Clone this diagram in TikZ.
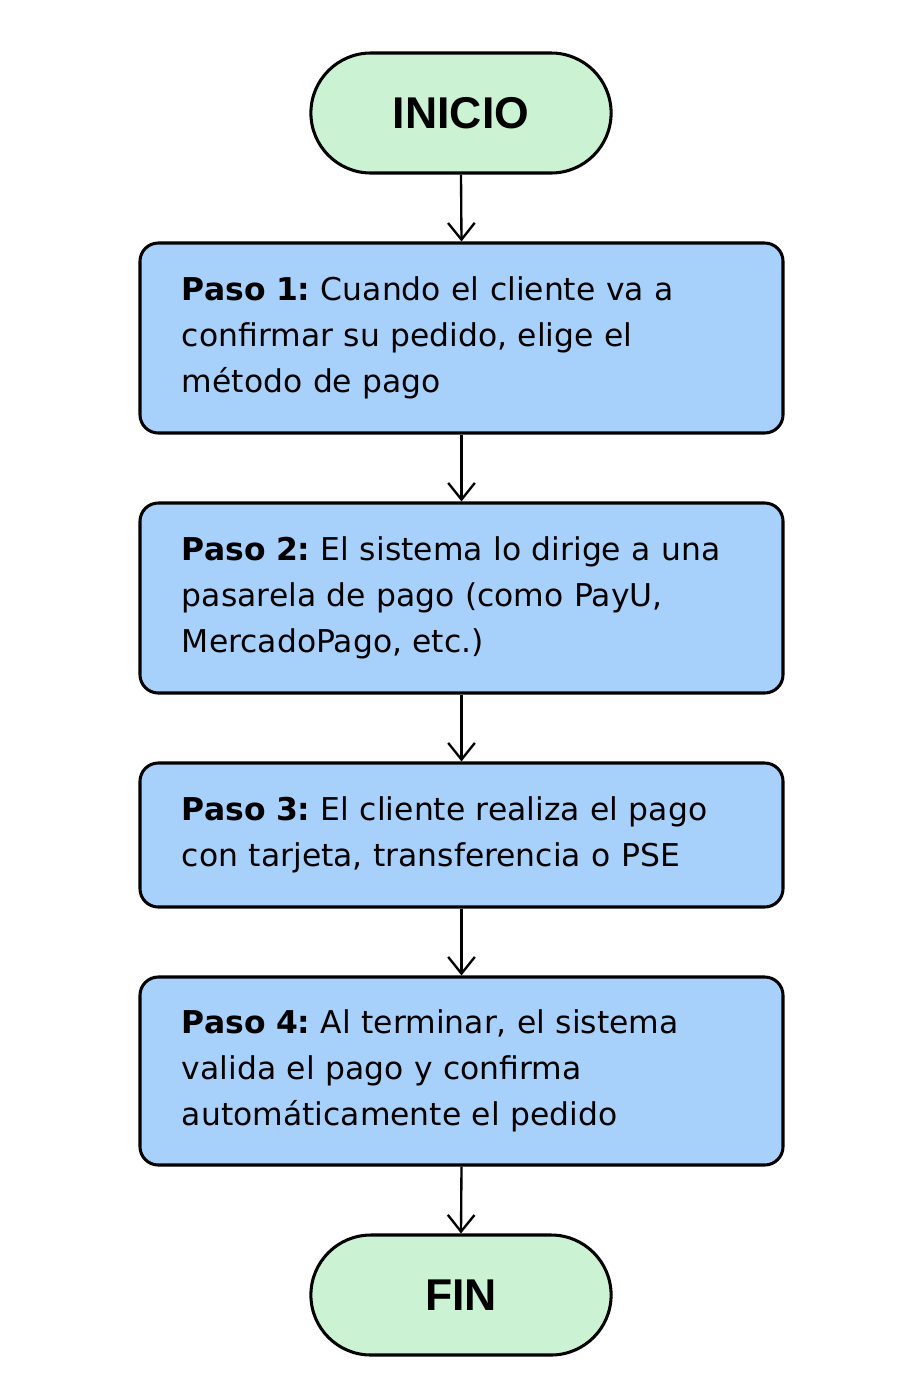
\documentclass[tikz,border=0pt]{standalone}
\usepackage{fontspec}
\setmainfont{Liberation Sans}
\newfontfamily\stepfont{DejaVu Sans}
\usetikzlibrary{arrows.meta,shapes.misc}

\definecolor{terminalgreen}{HTML}{CCF2D4}
\definecolor{stepblue}{HTML}{A7D1FB}

\tikzset{
  terminal/.style={rounded rectangle, draw, line width=2.6pt, fill=terminalgreen,
    minimum width=9.24cm, minimum height=3.6cm, font=\fontsize{38}{40}\selectfont\bfseries},
  stepbox/.style={rectangle, rounded corners=0.55cm, draw, line width=2.6pt, fill=stepblue,
    text width=16.77cm, inner xsep=1.26cm, align=left,
    font=\stepfont\fontsize{26.8}{39}\selectfont\frenchspacing},
  flow/.style={-{Straight Barb[length=0.5cm,width=0.8cm]}, line width=2pt}
}

\begin{document}
\begin{tikzpicture}[x=0.03cm, y=-0.03cm]

    \useasboundingbox (0,0) rectangle (923,1386);

    % --- Inicio y fin ---
    \node[terminal] (inicio) at (461,113) {INICIO};
    \node[terminal] (fin) at (461,1295) {FIN};

    % --- Pasos ---
    \node[stepbox, minimum height=5.7cm] (paso1) at (461.5,338)
        {\textbf{Paso 1:} Cuando el cliente va a\\confirmar su pedido, elige el\\método de pago};
    \node[stepbox, minimum height=5.7cm] (paso2) at (461.5,598)
        {\textbf{Paso 2:} El sistema lo dirige a una\\pasarela de pago (como PayU,\\MercadoPago, etc.)};
    \node[stepbox, minimum height=4.32cm] (paso3) at (461.5,835)
        {\textbf{Paso 3:} El cliente realiza el pago\\con tarjeta, transferencia o PSE};
    \node[stepbox, minimum height=5.64cm] (paso4) at (461.5,1071)
        {\textbf{Paso 4:} Al terminar, el sistema\\valida el pago y confirma\\automáticamente el pedido};

    % --- Flechas ---
    \foreach \a/\b in {inicio/paso1, paso1/paso2, paso2/paso3, paso3/paso4, paso4/fin} {
        \draw[flow] (\a.south) -- (\b.north);
    }

\end{tikzpicture}
\end{document}
